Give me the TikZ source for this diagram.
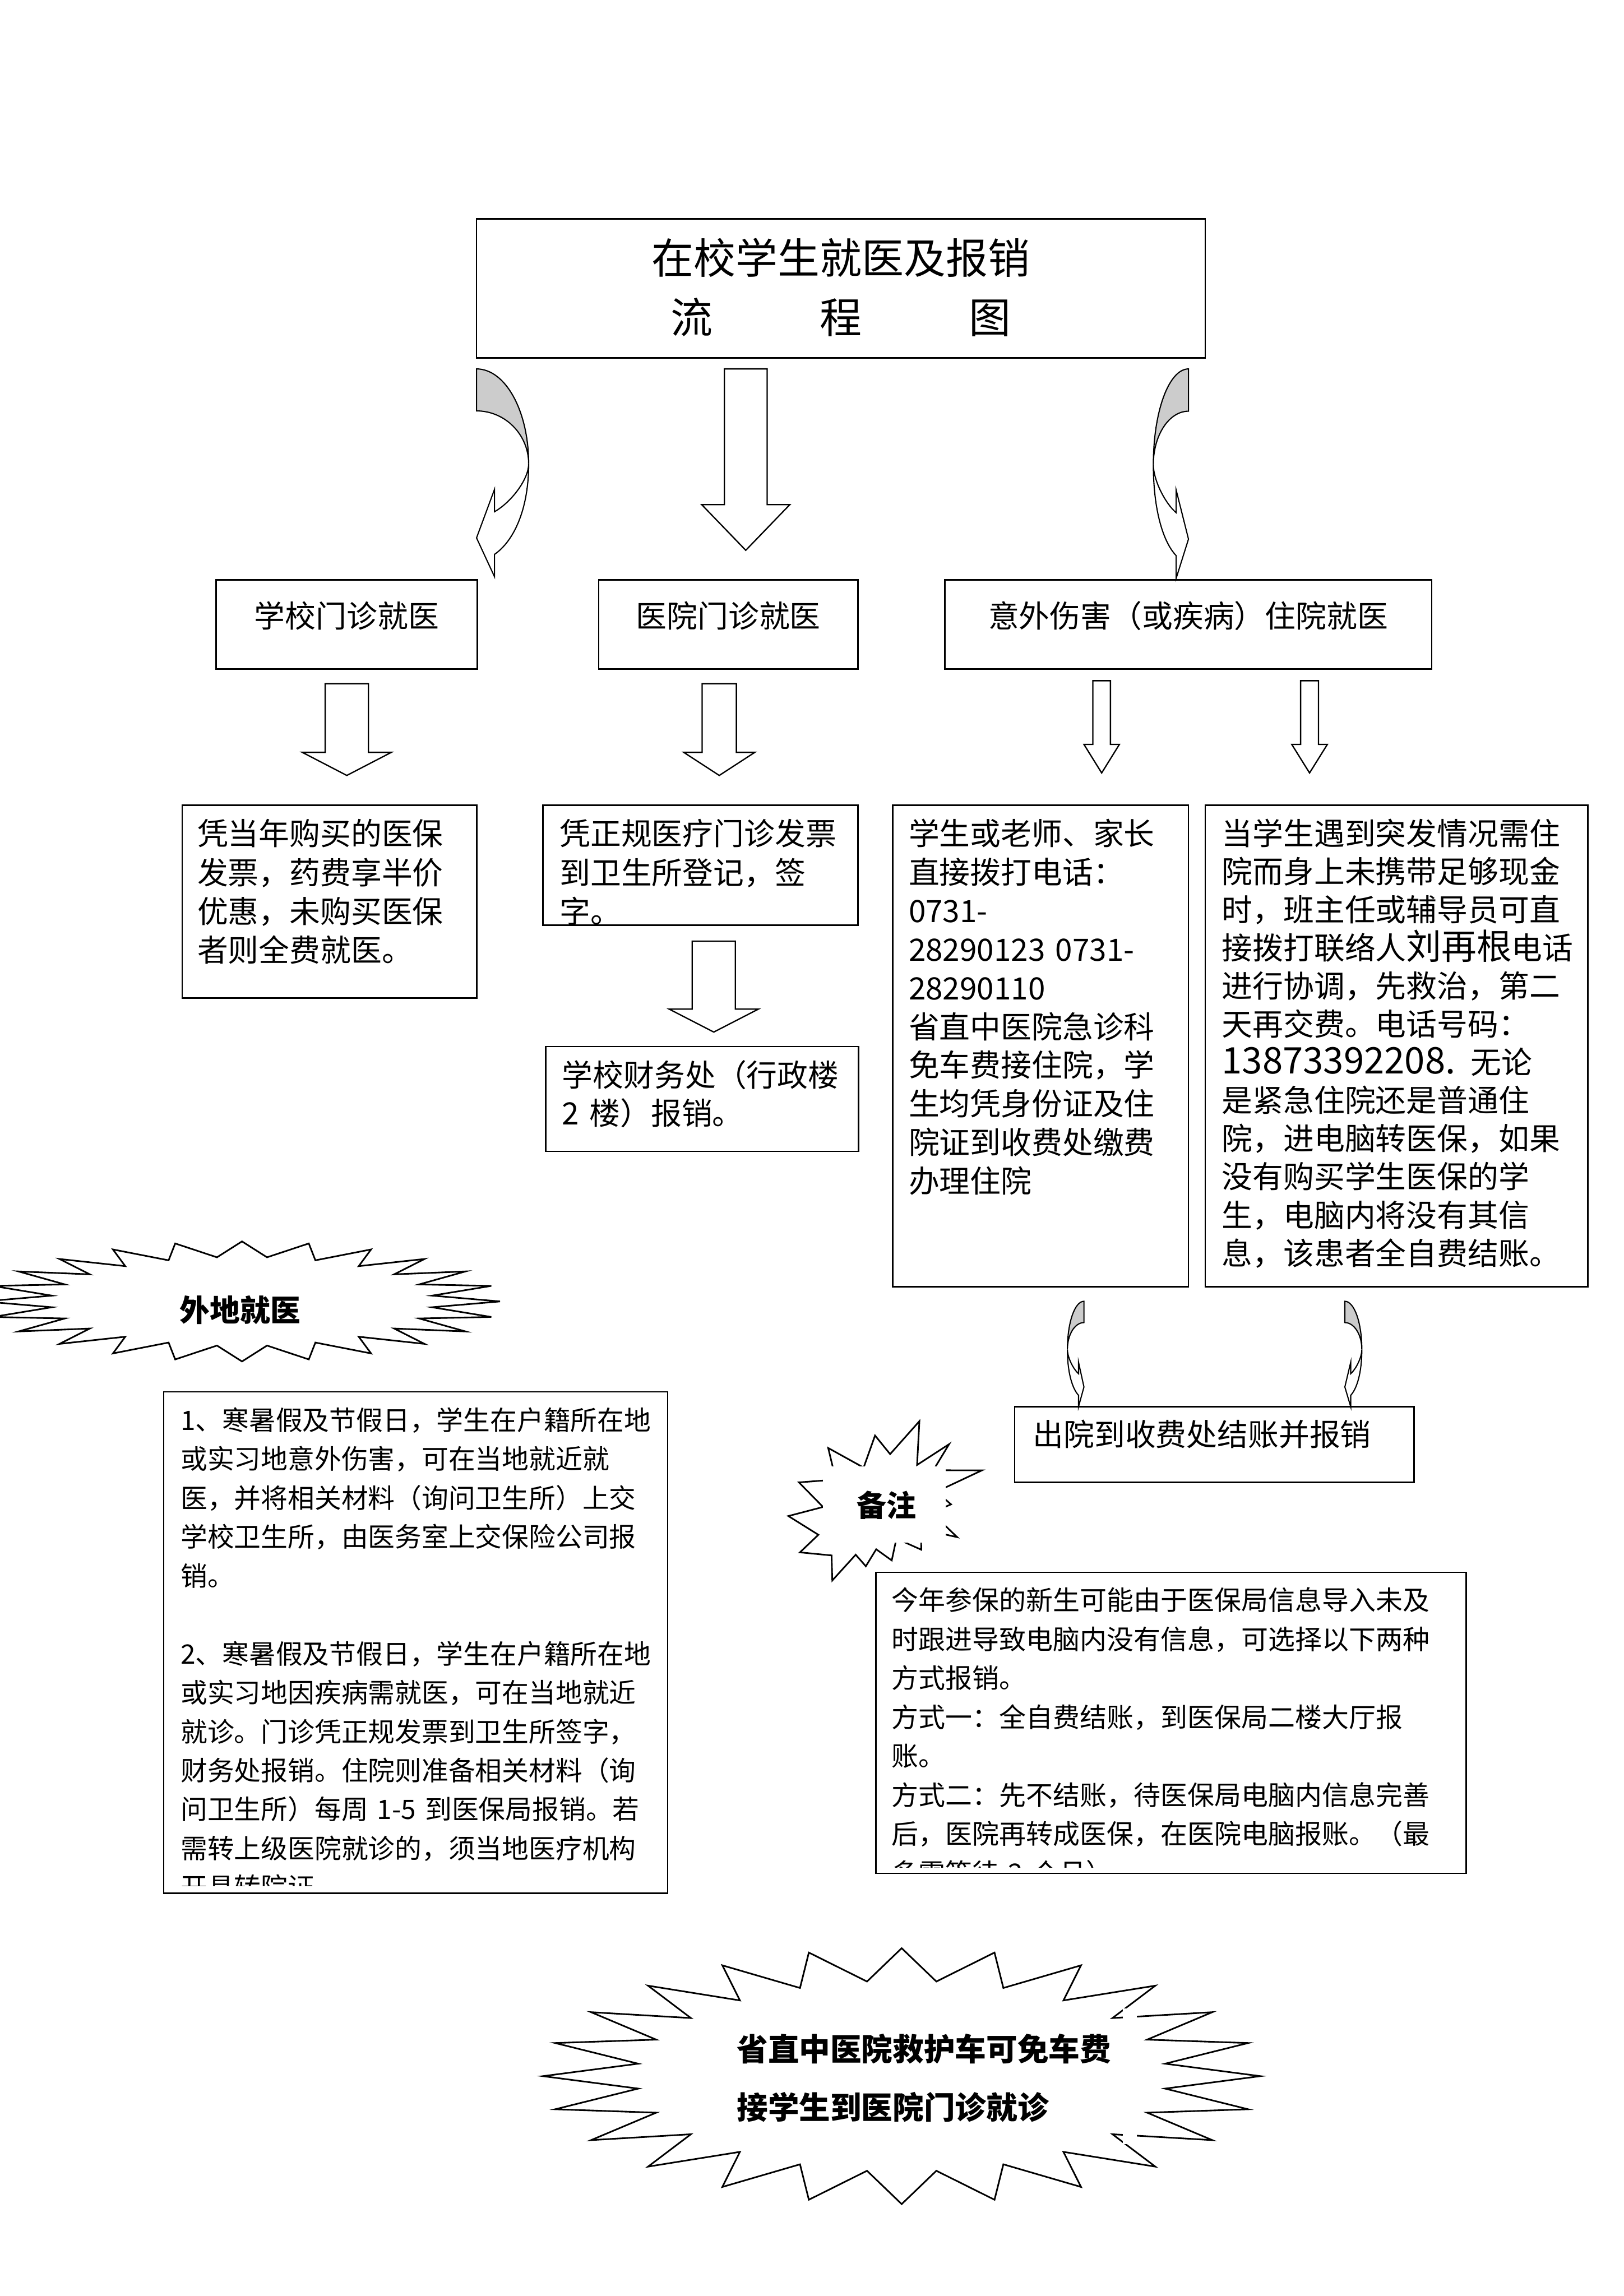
\documentclass[tikz,border=0pt]{standalone}
\usepackage{fontspec}
\setmainfont{Noto Sans CJK SC}
\tikzset{
  box/.style={draw, line width=1pt, inner sep=0pt, outer sep=0pt, fill=white},
  blockarr/.style={draw, line width=0.9pt, fill=white, line join=miter},
  starline/.style={draw, line width=1.1pt, fill=white, line join=miter},
  cvgrey/.style={draw, line width=0.8pt, fill=black!20},
  cvwhite/.style={draw, line width=0.8pt, fill=white},
  lbl/.style={inner sep=0pt, outer sep=0pt, anchor=base},
  para/.style={inner sep=0pt, outer sep=0pt, anchor=base west, align=left, text width=#1}
}
% block arrow: xc, ytop, shaft half width, head half width, ybase, ytip
\newcommand{\blockarrow}[6]{%
  \draw[blockarr] ({#1-#3},#2) -- ({#1+#3},#2) -- ({#1+#3},#5) -- ({#1+#4},#5)
    -- (#1,#6) -- ({#1-#4},#5) -- ({#1-#3},#5) -- cycle;}
% curved ribbon arrow: x0, ytop, height, bulge (signed), head offset (signed)
\newcommand{\cvarrow}[5]{%
  \pgfmathsetmacro{\cvX}{#1}\pgfmathsetmacro{\cvY}{#2}\pgfmathsetmacro{\cvH}{#3}%
  \pgfmathsetmacro{\cvW}{#4}\pgfmathsetmacro{\cvD}{#5}%
  \filldraw[cvgrey] (\cvX,\cvY) .. controls ({\cvX+0.55*(\cvW)},\cvY) and ({\cvX+\cvW},{\cvY+0.2*\cvH}) ..
    ({\cvX+\cvW},{\cvY+0.457*\cvH}) .. controls ({\cvX+\cvW},{\cvY+0.316*\cvH}) and ({\cvX+0.55*(\cvW)},{\cvY+0.202*\cvH}) ..
    (\cvX,{\cvY+0.202*\cvH}) -- cycle;
  \filldraw[cvwhite] ({\cvX+\cvW},{\cvY+0.457*\cvH}) .. controls ({\cvX+\cvW},{\cvY+0.68*\cvH}) and ({\cvX+\cvD+0.55*(\cvW-\cvD)},{\cvY+0.83*\cvH}) ..
    ({\cvX+\cvD},{\cvY+0.892*\cvH}) -- ({\cvX+\cvD},{\cvY+\cvH}) -- (\cvX,{\cvY+0.813*\cvH})
    -- ({\cvX+\cvD},{\cvY+0.579*\cvH}) -- ({\cvX+\cvD},{\cvY+0.687*\cvH})
    .. controls ({\cvX+\cvD+0.5*(\cvW-\cvD)},{\cvY+0.64*\cvH}) and ({\cvX+\cvW},{\cvY+0.53*\cvH}) ..
    ({\cvX+\cvW},{\cvY+0.457*\cvH}) -- cycle;}
% 24-point burst: cx, cy, Rx, Ry, rx, ry
\newcommand{\burst}[6]{%
  \draw[starline] plot[variable=\k, samples at={0,1,...,47}]
    ({#1+(#3-(#3-#5)*mod(\k,2))*sin(\k*7.5)},{#2-(#4-(#4-#6)*mod(\k,2))*cos(\k*7.5)}) -- cycle;}
\begin{document}
\begin{tikzpicture}[x=1pt,y=-1pt]
\useasboundingbox (0,0) rectangle (1109,1568.4);
\fill[white] (0,0) rectangle (1109,1568.4);
\begin{scope}
\clip (0,0) rectangle (1109,1568.4);

% ---------- boxes ----------
\node[box, minimum width=497.8pt, minimum height=94.9pt] (title) at (574.4,196.95) {};
\node[box, minimum width=178.4pt, minimum height=61pt] (b1) at (236.8,426.5) {};
\node[box, minimum width=177.2pt, minimum height=61pt] (b2) at (497.5,426.5) {};
\node[box, minimum width=332.7pt, minimum height=61pt] (b3) at (811.65,426.5) {};
\node[box, minimum width=201.1pt, minimum height=131.8pt] (c1) at (225.05,615.9) {};
\node[box, minimum width=215.3pt, minimum height=81.9pt] (c2) at (478.45,590.95) {};
\node[box, minimum width=213.7pt, minimum height=71.6pt] (c3) at (479.65,750.7) {};
\node[box, minimum width=202pt, minimum height=329pt] (c4) at (710.8,714.5) {};
\node[box, minimum width=261.3pt, minimum height=329pt] (c5) at (953.95,714.5) {};
\node[box, minimum width=272.8pt, minimum height=51.7pt] (d1) at (829.4,986.75) {};
\node[box, minimum width=344.3pt, minimum height=342.4pt] (e1) at (283.95,1122) {};
\node[box, minimum width=403.2pt, minimum height=205.6pt] (e2) at (799.8,1176.8) {};

% ---------- block arrows ----------
\blockarrow{509.4}{252}{14.6}{30.1}{344.7}{375.9}
\blockarrow{236.9}{467}{14.75}{30.45}{513.9}{529.7}
\blockarrow{491.3}{467}{11.7}{24.3}{513.9}{529.7}
\blockarrow{487.55}{642.9}{14.75}{30.5}{689.3}{705}
\blockarrow{752.5}{465}{6}{12.1}{508.5}{528}
\blockarrow{894.5}{465}{6.1}{12.15}{508.5}{528}

% ---------- curved arrows ----------
\cvarrow{325.5}{252}{142}{35.6}{12.3}
\cvarrow{811.8}{252}{143}{-24}{-8.4}
\cvarrow{740.4}{888.9}{72}{-11.3}{-3.7}
\cvarrow{918.6}{888.9}{72}{11.6}{4}

% ---------- bursts ----------
\burst{165.3}{889}{176.3}{41}{131}{30.4}
\burst{615.9}{1418.2}{245}{87.4}{181.5}{65.2}
\fill[white] (767,1372) rectangle (776.6,1464.5);
\draw[starline] (628.0,970.8) -- (626.4,1000.7) -- (648.3,986.5) -- (637.5,1004.3) -- (670.7,1004.4)
  -- (639.6,1019.0) -- (649.6,1027.6) -- (636.4,1033.3) -- (653.8,1050.0) -- (629.0,1044.5)
  -- (629.3,1058.6) -- (612.3,1051.0) -- (609.1,1065.9) -- (598.5,1058.3) -- (591.4,1069.9)
  -- (584.5,1062.0) -- (568.5,1079.6) -- (568.0,1062.5) -- (546.4,1060.4) -- (559.0,1048.4)
  -- (538.5,1035.6) -- (562.2,1029.4) -- (545.7,1012.6) -- (570.9,1010.7) -- (565.7,989.1)
  -- (589.9,1002.5) -- (597.7,980.6) -- (608.0,993.3) -- cycle;
\fill[white] (562.2,1001.8) rectangle (645.9,1053.8);

% ---------- texts ----------
\node[lbl, font=\fontsize{28.7}{34}\selectfont] (t1) at (574.4,186.9) {在校学生就医及报销};
\node[lbl, font=\fontsize{28.7}{34}\selectfont] (t2) at (574.4,227.7) {流\hspace{73.15pt}程\hspace{73.15pt}图};
\node[lbl, font=\fontsize{21}{26}\selectfont] (b1t) at (236.8,428.5) {学校门诊就医};
\node[lbl, font=\fontsize{21}{26}\selectfont] (b2t) at (497.5,428.5) {医院门诊就医};
\node[lbl, font=\fontsize{21}{26}\selectfont] (b3t) at (811.6,428.5) {意外伤害（或疾病）住院就医};
\node[para=260pt, font=\fontsize{21}{26.5}\selectfont] (c1t) at (134.8,577.4)
  {凭当年购买的医保\\发票，药费享半价\\优惠，未购买医保\\者则全费就医。};
\node[para=260pt, font=\fontsize{21}{26.5}\selectfont] (c2t) at (382.3,577.4)
  {凭正规医疗门诊发票\\到卫生所登记，签\\字。};
\node[para=260pt, font=\fontsize{21}{26.1}\selectfont] (c3t) at (384,742.1)
  {学校财务处（行政楼\\2 楼）报销。};
\node[para=260pt, font=\fontsize{21}{26.37}\selectfont] (c4t) at (620.7,577.3)
  {学生或老师、家长\\直接拨打电话：\\0731-\\28290123 0731-\\28290110\\省直中医院急诊科\\免车费接住院，学\\生均凭身份证及住\\院证到收费处缴费\\办理住院};
\node[para=300pt, font=\fontsize{21}{26.05}\selectfont] (c5t) at (834.6,577.3)
  {当学生遇到突发情况需住\\院而身上未携带足够现金\\时，班主任或辅导员可直\\接拨打联络人{\fontsize{24}{26.05}\selectfont 刘再根}电话\\进行协调，先救治，第二\\天再交费。电话号码：\\{\fontsize{25}{26.05}\selectfont 13873392208.} 无论\\是紧急住院还是普通住\\院，进电脑转医保，如果\\没有购买学生医保的学\\生，电脑内将没有其信\\息，该患者全自费结账。};
\node[para=300pt, font=\fontsize{21}{26}\selectfont] (d1t) at (705.5,987.8) {出院到收费处结账并报销};
\node[lbl, font=\bfseries\fontsize{20.6}{24}\selectfont] (s1t) at (164,902.8) {外地就医};
\node[lbl, font=\bfseries\fontsize{20.3}{24}\selectfont] (s2t) at (605.6,1036.1) {备注};
\node[para=320pt, font=\bfseries\fontsize{21.3}{39.8}\selectfont] (s3t) at (503.3,1407.8)
  {省直中医院救护车可免车费\\接学生到医院门诊就诊};
\begin{scope}
\clip (112.5,951.5) rectangle (455.5,1288.3);
\node[para=340pt, font=\fontsize{18.3}{26.6}\selectfont] (e1t) at (123.4,976.9)
  {1、寒暑假及节假日，学生在户籍所在地\\或实习地意外伤害，可在当地就近就\\医，并将相关材料（询问卫生所）上交\\学校卫生所，由医务室上交保险公司报\\销。\\[26.6pt]2、寒暑假及节假日，学生在户籍所在地\\或实习地因疾病需就医，可在当地就近\\就诊。门诊凭正规发票到卫生所签字，\\财务处报销。住院则准备相关材料（询\\问卫生所）每周 1-5 到医保局报销。若\\需转上级医院就诊的，须当地医疗机构\\开具转院证};
\end{scope}
\begin{scope}
\clip (599,1074.5) rectangle (1000.5,1275.6);
\node[para=400pt, font=\fontsize{18.36}{26.6}\selectfont] (e2t) at (609.2,1100)
  {今年参保的新生可能由于医保局信息导入未及\\时跟进导致电脑内没有信息，可选择以下两种\\方式报销。\\方式一：全自费结账，到医保局二楼大厅报\\账。\\方式二：先不结账，待医保局电脑内信息完善\\后，医院再转成医保，在医院电脑报账。（最\\多需等待 2 个月）};
\end{scope}
\end{scope}
\end{tikzpicture}
\end{document}
